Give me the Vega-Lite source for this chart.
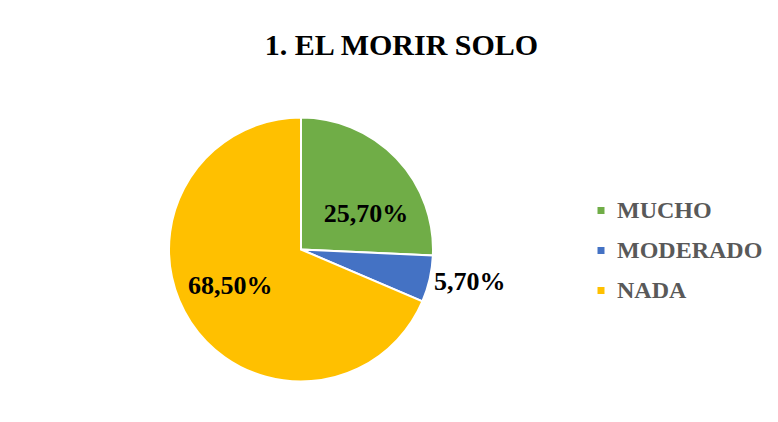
{
  "$schema": "https://vega.github.io/schema/vega-lite/v6.json",
  "width": 264,
  "height": 264,
  "autosize": {"type": "none"},
  "padding": {"left": 169, "top": 117.5, "right": 345, "bottom": 40.5},
  "background": "white",
  "title": {
    "text": "1. EL MORIR SOLO",
    "font": "Liberation Serif",
    "fontSize": 30,
    "fontWeight": "bold",
    "color": "#000000",
    "anchor": "middle",
    "frame": "group",
    "baseline": "alphabetic",
    "offset": 26,
    "dx": 100.5
  },
  "data": {
    "values": [
      {"categoria": "MUCHO", "porcentaje": 25.7, "etiqueta": "25,70%", "orden": 1},
      {"categoria": "MODERADO", "porcentaje": 5.7, "etiqueta": "5,70%", "orden": 2},
      {"categoria": "NADA", "porcentaje": 68.5, "etiqueta": "68,50%", "orden": 3}
    ]
  },
  "encoding": {
    "theta": {"field": "porcentaje", "type": "quantitative", "stack": true},
    "order": {"field": "orden", "type": "quantitative", "sort": "ascending"}
  },
  "layer": [
    {
      "mark": {"type": "arc", "stroke": "white", "strokeWidth": 2},
      "encoding": {
        "color": {
          "field": "categoria",
          "type": "nominal",
          "sort": ["MUCHO", "MODERADO", "NADA"],
          "scale": {"domain": ["MUCHO", "MODERADO", "NADA"], "range": ["#70AD47", "#4472C4", "#FFC000"]},
          "legend": {
            "title": null,
            "orient": "none",
            "legendX": 420,
            "legendY": 81,
            "padding": 0,
            "symbolType": "square",
            "symbolSize": 49,
            "symbolStrokeWidth": 0,
            "labelFont": "Liberation Serif",
            "labelFontWeight": "bold",
            "labelFontSize": 24,
            "labelColor": "#595959",
            "labelOffset": 4,
            "rowPadding": 16,
            "labelLimit": 300
          }
        }
      }
    },
    {
      "mark": {"type": "text", "font": "Liberation Serif", "fontWeight": "bold", "fontSize": 26, "color": "#000000", "baseline": "middle", "align": "center", "dx": -4, "dy": -8},
      "encoding": {
        "text": {"condition": {"test": "datum.categoria !== 'NADA'", "value": ""}, "field": "etiqueta", "type": "nominal"},
        "radius": {"value": 80}
      }
    },
    {
      "mark": {"type": "text", "font": "Liberation Serif", "fontWeight": "bold", "fontSize": 26, "color": "#000000", "baseline": "middle", "align": "center", "dy": -6},
      "encoding": {
        "text": {"condition": {"test": "datum.categoria !== 'MODERADO'", "value": ""}, "field": "etiqueta", "type": "nominal"},
        "radius": {"value": 173}
      }
    },
    {
      "mark": {"type": "text", "font": "Liberation Serif", "fontWeight": "bold", "fontSize": 26, "color": "#000000", "baseline": "middle", "align": "center", "dx": 13, "dy": 14},
      "encoding": {
        "text": {"condition": {"test": "datum.categoria !== 'MUCHO'", "value": ""}, "field": "etiqueta", "type": "nominal"},
        "radius": {"value": 72}
      }
    }
  ]
}
